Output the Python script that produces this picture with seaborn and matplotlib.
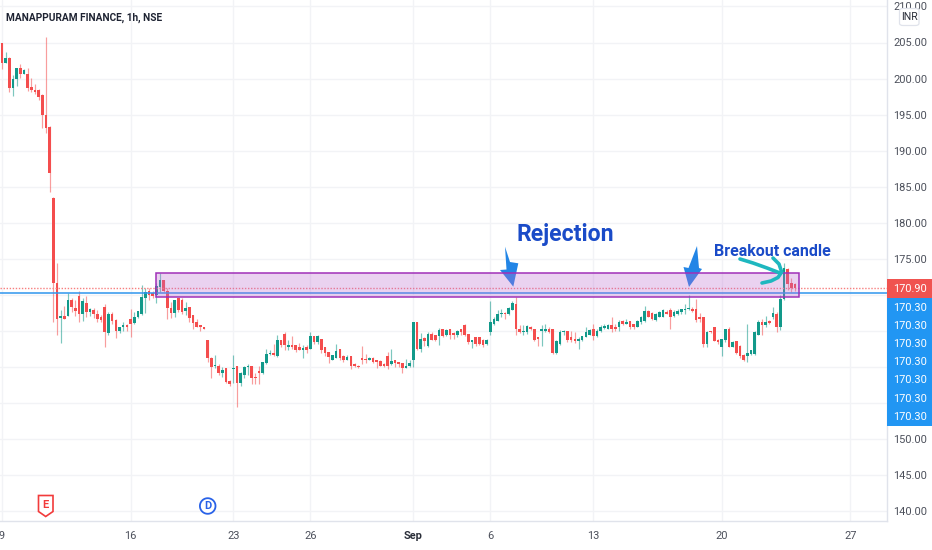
import numpy as np
import pandas as pd
import matplotlib
matplotlib.use("Agg")
import matplotlib.pyplot as plt
from matplotlib.patches import Rectangle, Polygon, FancyBboxPatch
import seaborn as sns

opens = [204.9,202.1,202.9,198.7,200,201.4,200.7,200.7,198.8,198.4,198.4,197.7,194.9,193.3,183.5,171.6,
166.8,167.1,167,169.3,168.2,169.8,167.4,168.9,167.6,167.9,167.4,166.9,168.3,164.7,167.3,166.5,165,165.6,165.8,
166.6,166.1,166.9,167.4,169.6,170.5,170.3,170,171.1,172,170.6,168.2,167.5,169.5,169.3,167.8,168.3,167.2,166.2,165.8,165.6,
163.8,161.3,160.1,160.2,159.1,159.8,158,159.7,160.1,157.8,158.9,160,160.2,158.6,159.4,159.1,160.6,161.8,162,161.5,163.7,164.6,162.8,163,163,162.7,162.4,162.7,
162.5,164.3,163.4,163.9,162.7,162.1,161,161.2,162.5,161.5,161,161.5,160.4,160.2,161.2,161.1,161,161.3,160.9,160.8,160.4,161.5,160.4,161,160.7,160.5,159.8,160.2,
160.9,166.2,162.5,164,162.9,164.6,164.4,164.3,165.3,164.4,165.2,164.7,164.4,165.2,165.8,164.6,163.5,164.1,164.1,163.8,163.2,
164.9,166,166.4,167.3,167.5,167.4,167.9,168.7,165.2,164.8,164.8,165.6,165.3,164.1,165,165,165.3,165.2,162,163.2,164.8,165,164.2,163.9,163.6,163.7,164.1,164.5,
165.2,164.3,165,165.4,165.3,165.8,165.6,165.5,166.4,166,166.4,165.9,165.6,166.3,166.4,167.7,167.5,166.5,166.9,166.9,167.6,167.9,167,167.4,167.6,167.9,168,168.1,168.1,166.9,166.9,
163.2,164.9,165.5,163.7,162.7,163.7,165.2,162.8,163.6,162.9,161.6,161.5,161.8,161.8,164.5,166.3,165.8,166.4,166.9,167.4,165.5,169.4,173.6,171.6,171.5]
highs = [204.9,203.7,203,200.5,201.4,202,201.3,201.4,200.1,199.3,198.5,197.8,205.8,193.4,183.6,174.4,
167.9,168.4,170.2,169.5,169.3,170.5,169.5,169.8,168.2,168.2,167.9,167.2,168.7,167.6,167.6,166.7,165.6,166.3,166,
168.1,167.6,167.7,171.4,170.9,170.9,170.6,171.7,173,172.1,170.9,169,169.3,169.5,169.5,169,168.3,167.2,166.7,165.8,165.6,
163.8,161.4,161.7,160.4,160,159.8,158.2,161.7,160.2,159.3,160.2,160.4,160.2,159.1,160.2,160.7,162.5,162.4,163.2,164.5,163.8,164.9,163.7,164.3,163,163.3,163,163,
164.8,164.3,164.4,163.9,162.8,162.1,161.7,163.2,162.5,161.6,161.6,161.5,160.6,160.3,162.9,161.8,161.4,161.4,161,161,160.5,162.1,162.5,161,160.7,160.5,161.1,160.9,
166.2,166.2,164.7,164.2,164.9,164.9,164.5,165.4,165.3,165.3,165.2,164.9,165.1,165.3,165.9,164.6,163.8,164.1,164.2,163.9,163.9,
169.1,166.9,167.9,168.1,167.6,168.3,169.1,169.7,165.8,165.8,165.8,165.7,165.3,164.2,165.8,166,165.6,165.3,163.7,165.1,165.1,165,165,164.9,164.1,164.3,165.5,165.3,
165.9,165.2,165.8,165.9,166,166.9,165.9,166.5,166.5,166.6,166.4,166,166.5,167,168.5,167.9,167.6,167.5,167.8,168,167.9,168.2,167.9,168,168.1,168.8,170,168.3,169.4,167.5,166.9,
165,165,165.6,163.9,163.9,165.3,165.5,163.6,163.6,163,161.8,166,162.3,165,166.5,166.7,167,166.5,168.3,167.6,170,174.4,173.7,172.3,171.6]
lows = [201.3,202.1,198.1,197.6,199,200.1,200.6,198.3,198.2,197.8,197,193.2,192.4,184.3,166.2,164.5,
163.3,166.7,167,167.6,167,166.2,166.4,166.9,167,166.8,166.2,166.2,162.8,164.4,166,164,164.7,165,165,
164.2,166,166.8,167.2,167.5,169.3,169.5,168.9,170.4,170.4,166.6,166.8,166.9,167.6,167.4,167.2,166.2,165.2,165.6,165,165.2,
160.7,158.5,159.9,158.9,158.6,157.8,157.4,157.8,154.5,157.3,158.5,158.9,157.6,157.6,157.6,159,160.4,161.7,161.5,161.4,162.8,162.3,162.3,162.5,162.1,162.3,161.2,161.9,
162.5,163.2,163.2,161.9,161.5,160.6,160.9,161.2,160.9,160.7,160.9,159.7,160,159.9,160.4,160.5,160.9,160.5,159.9,160.1,160,159.7,160.3,160,160,159.2,159.8,160,
160,162.3,162.1,162.9,162.8,163.7,163.6,163.1,164.2,164.3,163.9,163.9,164.2,164.5,164.3,163.2,162.6,162.9,163,162.7,163.1,
164.5,165.8,166.4,166.9,166.7,167.2,167.9,164.5,164.7,164.5,164.6,165.1,163.6,162.9,162.9,164.9,164.7,161.8,161.8,163.1,164.4,163.5,163.5,163.3,162.5,163.6,164.1,164.4,
163.7,164.1,164.9,165.2,165.2,164.9,165,165,165.8,165.9,165.3,165.3,165.5,165.9,166.3,166.9,166.5,166.4,166.9,166.9,167.3,165.3,166.9,167.2,167.4,167.3,167.9,167.6,166.3,166.3,162.8,
162.8,164.7,163.6,163.2,161.5,163.5,162.7,162.7,161.8,161.2,160.8,160.7,161.6,161.6,164.4,164.5,165.6,165.9,166.7,164.9,165.1,169.3,170.7,170.4,170.6]
closes = [202.2,202.8,198.7,200,201.4,200.6,201.2,198.7,198.4,198.1,197.4,194.9,193.2,186.9,171.6,166.7,
167.1,166.7,169.3,168.3,167.7,167.4,169.2,167.6,168,167.4,166.6,166.5,164.8,167.3,166.4,165,165.6,165.8,165.5,
166,166.9,167.7,169.7,170.4,170,169.8,171.2,172,170.5,168.2,167.5,169.3,167.9,167.6,168.2,166.8,166.1,165.6,165.6,165.3,
161.2,160,160.3,159.1,159.6,157.9,157.7,159.9,157.8,159.1,160,160.1,158.4,158.4,159.1,160.7,161.8,162,161.6,163.7,163,163,163.1,162.7,162.3,162.4,162.6,162.3,
164.3,163.4,164.3,162.3,161.9,161.4,161.7,162.2,161.3,161,161.4,160.2,160.1,160,161,161,161.3,160.7,160.7,160.2,160.2,160.2,160.8,160.5,160.4,159.8,160.2,160.5,
166.2,162.5,163.9,163.6,164.6,163.8,163.7,165.1,164.3,165.1,164.4,164.4,165,164.9,164.5,163.5,163.7,163.2,163.2,163,163.8,
166.2,166.7,167.3,167.5,167.3,168.2,168.9,165.3,164.9,165,165.7,165.3,163.8,163.9,165.3,165.2,164.9,162,163.6,164.9,165,163.7,163.7,163.6,163.9,164.3,164.9,165.1,
164.3,165,165.6,165.7,165.8,165.2,165.2,166.3,166,166.2,165.5,165.5,166.4,166.9,167.7,166.9,166.7,167.3,167.6,167.9,167.4,166.9,167.6,167.8,168,168.1,168.1,167.7,166.5,166.6,163.2,
164.9,164.8,163.6,163.4,163.9,165.3,162.8,163.5,161.9,161.5,160.9,161.9,162.3,164.9,166.3,165.8,166.3,166.1,167.5,165.5,169.4,173.7,171.5,171,170.9]

price_ticks = [140,145,150,155,160,165,170,175,180,185,190,195,200,205,210]
hidden_ticks = [155,160,165,170]
date_labels = ["9","16","23","26","Sep","6","13","20","27"]
date_positions = [0,35,63,84,112,133,161,196,231]
last_price = 170.90
line_price = 170.30
stacked_labels = ["170.30"]*7
zone_start, zone_end = 42, 217
zone_low, zone_high = 169.77, 173.07
title = "MANAPPURAM FINANCE, 1h, NSE"

W, H = 932, 550
UP, DOWN = "#12998a", "#f44d4d"
INK = "#4c505b"
SCALE_PT = 7.9

sns.set_theme(style="white")
plt.rcParams["font.family"] = ["Roboto", "DejaVu Sans"]

df = pd.DataFrame({"o": opens, "h": highs, "l": lows, "c": closes})
df["i"] = np.arange(len(df))
df["bottom"] = df[["o", "c"]].min(axis=1)
df["size"] = (df["o"] - df["c"]).abs().clip(lower=0.12)
df["up"] = df["c"] >= df["o"]

fig = plt.figure(figsize=(W/100, H/100), dpi=100, facecolor="white")
ax = fig.add_axes([0, 29.5/H, 886.7/W, 520.5/H])

def px_x(px):
    return (px - 2) / 3.672
def px_y(py):
    return 205 - (py - 42.5) / 7.21

for is_up, color in ((True, UP), (False, DOWN)):
    sub = df[df["up"] == is_up]
    ax.vlines(sub["i"], sub["l"], sub["h"], color=color, lw=0.85, alpha=0.55, zorder=3)
    sns.barplot(data=sub, x="i", y="size", bottom=sub["bottom"].values, native_scale=True,
                color=color, saturation=1, width=0.72, linewidth=0, errorbar=None,
                ax=ax, zorder=4)

ax.set_xlim(px_x(0), px_x(886.7))
ax.set_ylim(px_y(520.5), px_y(0))
ax.set_xlabel(""); ax.set_ylabel("")

ax.set_xticks(date_positions)
ax.set_xticklabels(date_labels)
ax.set_yticks(price_ticks)
ax.set_yticklabels(["" if t in hidden_ticks else f"{t:.2f}" for t in price_ticks])
ax.yaxis.tick_right()
ax.tick_params(axis="y", length=0, pad=4.6, labelsize=SCALE_PT, labelcolor=INK)
ax.tick_params(axis="x", length=0, pad=7.5, labelsize=SCALE_PT, labelcolor=INK)
for lab, txt in zip(ax.get_xticklabels(), date_labels):
    if txt == "Sep":
        lab.set_fontweight("bold")
        lab.set_color("#2a2e39")
ax.grid(True, color="#f2f3f6", lw=1.0, zorder=0)
ax.set_axisbelow(True)
for side in ("top", "left"):
    ax.spines[side].set_visible(False)
for side in ("bottom", "right"):
    ax.spines[side].set_color("#e0e3eb")
    ax.spines[side].set_linewidth(1.0)

# price lines
ax.axhline(line_price, color="#2f96ee", lw=1.1, zorder=5)
ax.axhline(last_price, color="#f77f7f", lw=1.0, ls=(0, (1, 1.2)), zorder=5)

# hand-drawn arrows (below the zone so the overlap darkens)
def pxpts(pts):
    return [(px_x(a), px_y(b)) for a, b in pts]
arrow_a = [(505,246.7),(510,262),(518.3,263.3),(513.3,286.7),(500,270),(506.5,269.5)]
arrow_b = [(697,246),(699,268),(702,269),(689,287),(683.5,267),(688.5,268)]
for pts in (arrow_a, arrow_b):
    ax.add_patch(Polygon(pxpts(pts), closed=True, fc="#2285e6", ec="none", zorder=6))

# zone rectangle
ax.add_patch(Rectangle((zone_start, zone_low), zone_end - zone_start, zone_high - zone_low,
                       fc="#bb6bd0", alpha=0.30, ec="none", zorder=7))
ax.add_patch(Rectangle((zone_start, zone_low), zone_end - zone_start, zone_high - zone_low,
                       fc="none", ec="#a030b8", lw=1.1, zorder=7))

# teal curved arrow
teal = "#1eb7bf"
line1 = [(740,259),(753,263),(767,268),(780,273)]
line2 = [(773,258),(779,264),(781.7,272),(778,277.5),(771,281),(762,283)]
for pts in (line1, line2):
    xy = np.array(pxpts(pts))
    ax.plot(xy[:,0], xy[:,1], color=teal, lw=2.6, solid_capstyle="round", solid_joinstyle="round", zorder=8)

# annotations
ax.text(px_x(517), px_y(234), "Rejection", color="#1a4bc8", fontsize=16.6, fontweight="bold",
        ha="left", va="center", zorder=9)
ax.text(px_x(714), px_y(251.5), "Breakout candle", color="#1a4bc8", fontsize=11.5, fontweight="bold",
        ha="left", va="center", zorder=9)
ax.text(px_x(6.5), px_y(18), title, color="#1f2433", fontsize=7.3, fontweight="bold",
        ha="left", va="center", zorder=9)

# price-scale labels
def fig_rect(x0, y0, x1, y1, **kw):
    fig.patches.append(Rectangle((x0/W, 1-y1/H), (x1-x0)/W, (y1-y0)/H,
                                 transform=fig.transFigure, zorder=1, **kw))
fig_rect(886.7, 279.4, 932, 297.7, fc="#f05350", ec="none")
fig_rect(886.7, 297.7, 932, 426, fc="#2196f3", ec="none")
fig.text(893/W, 1-288.7/H, f"{last_price:.2f}", color="white", fontsize=SCALE_PT, ha="left", va="center", zorder=3)
for k, s in enumerate(stacked_labels):
    fig.text(893/W, 1-(307.7+k*18.17)/H, s, color="white", fontsize=SCALE_PT, ha="left", va="center", zorder=3)

# INR box
fig.patches.append(FancyBboxPatch((899.5/W, 1-25.5/H), 19.5/W, 17/H, boxstyle="round,pad=0,rounding_size=0.004",
                                  transform=fig.transFigure, fc="white", ec="#e0e3eb", lw=0.9, zorder=1))
fig.text(909.2/W, 1-17.2/H, "INR", color="#2a2e39", fontsize=7.6, ha="center", va="center", zorder=3)

# event markers
shield = [(38.5,495.5),(53,495.5),(53,511.5),(45.7,516.5),(38.5,511.5)]
ax.add_patch(Polygon(pxpts(shield), closed=True, fc="white", ec="#f23b3b", lw=1.2, zorder=9))
ax.text(px_x(45.7), px_y(505.3), "E", color="#f23b3b", fontsize=8, fontweight="bold", ha="center", va="center", zorder=10)
d_x, d_y = 207.7, 506
theta = np.linspace(0, 2*np.pi, 60)
ax.fill(px_x(d_x + 7.8*np.cos(theta)), px_y(d_y + 7.8*np.sin(theta)), fc="white", ec="#2962e8", lw=1.3, zorder=9)
ax.text(px_x(d_x), px_y(d_y), "D", color="#2962e8", fontsize=8, fontweight="bold", ha="center", va="center", zorder=10)

fig.savefig("out.png", dpi=100)
